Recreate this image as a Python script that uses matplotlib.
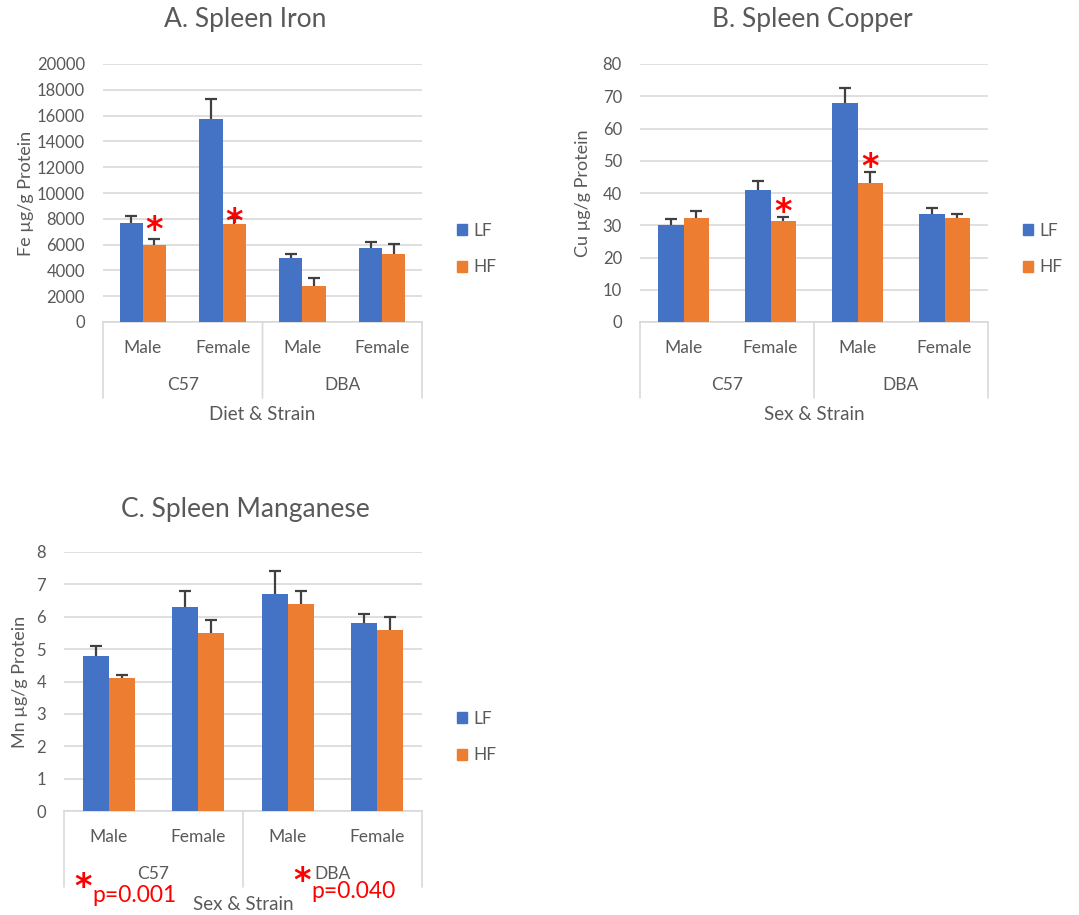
# -*- coding: utf-8 -*-
"""
Spleen metal content (Fe, Cu, Mn) by diet, sex and strain
"""
#%% Importing the necessary Python packages
import numpy as np
import matplotlib
matplotlib.use('Agg')
import matplotlib.pyplot as plt
from matplotlib.patches import Patch
from matplotlib.transforms import blended_transform_factory, ScaledTranslation

#%% Data
sexes = ['Male', 'Female', 'Male', 'Female']
strains = ['C57', 'DBA']
diets = ['LF', 'HF']

iron_lf = [7700, 15700, 5000, 5750]
iron_lf_err = [500, 1600, 300, 450]
iron_hf = [6000, 7600, 2800, 5300]
iron_hf_err = [400, 500, 600, 750]
iron_star_x = [0, 1]
iron_star_y = [7900, 8450]

copper_lf = [30, 41, 68, 33.5]
copper_lf_err = [2.0, 2.7, 4.7, 1.7]
copper_hf = [32.3, 31.3, 43, 32.3]
copper_hf_err = [2.2, 1.4, 3.6, 1.3]
copper_star_x = [1, 2]
copper_star_y = [37.2, 50.9]

mn_lf = [4.8, 6.3, 6.7, 5.8]
mn_lf_err = [0.3, 0.5, 0.7, 0.3]
mn_hf = [4.1, 5.5, 6.4, 5.6]
mn_hf_err = [0.1, 0.4, 0.4, 0.4]
mn_pvalues = ['p=0.001', 'p=0.040']

#%% Styling
W, H = 1079, 915
DPI = 100
cLF = '#4472C4'
cHF = '#ED7D31'
cText = '#595959'
cGrid = '#D9D9D9'
cErr = '#404040'
barW = 0.29
starFont = ['DejaVu Sans']

plt.rcParams['font.family'] = ['Lato', 'DejaVu Sans']
plt.rcParams['text.color'] = cText

fig = plt.figure(figsize=(W / DPI, H / DPI), dpi=DPI)


def pxAxes(left, top, right, bottom):
    # pixel box -> figure fraction axes
    return fig.add_axes([left / W, 1 - bottom / H, (right - left) / W, (bottom - top) / H])


def px(x, y):
    return x / W, 1 - y / H


def belowAxis(ax, dy):
    # x in data, y at the x axis shifted down by dy pixels
    base = blended_transform_factory(ax.transData, ax.transAxes)
    return base + ScaledTranslation(0, -dy / DPI, fig.dpi_scale_trans)


def upperErrorBars(ax, x, y, err):
    ebar = ax.errorbar(x, y, yerr=[np.zeros(len(y)), err], fmt='none', ecolor=cErr,
                       elinewidth=1.6, capsize=4.5, capthick=1.6, zorder=4)
    # keep only the top caps
    ebar[1][0].set_visible(False)
    return ebar


def addGroupedBars(ax, lf, lfErr, hf, hfErr, ymax, ystep, ylabel, xlabel, ylabelX):
    x = np.arange(len(sexes))
    ax.bar(x - barW / 2, lf, barW, color=cLF, zorder=3)
    ax.bar(x + barW / 2, hf, barW, color=cHF, zorder=3)
    upperErrorBars(ax, x - barW / 2, lf, lfErr)
    upperErrorBars(ax, x + barW / 2, hf, hfErr)

    ax.set_xlim(-0.5, len(sexes) - 0.5)
    ax.set_ylim(0, ymax)
    ax.set_yticks(np.arange(0, ymax + ystep / 2, ystep))
    ax.yaxis.grid(True, color=cGrid, lw=1.2)
    ax.set_axisbelow(True)
    for s in ['top', 'right', 'left']:
        ax.spines[s].set_visible(False)
    ax.spines['bottom'].set_color(cGrid)
    ax.spines['bottom'].set_linewidth(1.2)
    ax.tick_params(axis='y', length=0, pad=13, labelsize=12, labelcolor=cText)
    ax.set_xticks([])

    # two level category axis
    tr1 = belowAxis(ax, 26)
    tr2 = belowAxis(ax, 63)
    tr3 = belowAxis(ax, 93)
    for i, s in enumerate(sexes):
        ax.text(i, 0, s, transform=tr1, ha='center', va='center', fontsize=12.5, color=cText)
    for j, st in enumerate(strains):
        ax.text(2 * j + 0.5, 0, st, transform=tr2, ha='center', va='center', fontsize=12.5, color=cText)
    ax.text(1.5, 0, xlabel, transform=tr3, ha='center', va='center', fontsize=13.5, color=cText)
    base = blended_transform_factory(ax.transData, ax.transAxes)
    for xs in [-0.5, 1.5, 3.5]:
        ax.annotate('', xy=(xs, 0), xycoords=base,
                    xytext=(0, -76 * 0.72), textcoords='offset points',
                    arrowprops=dict(arrowstyle='-', color=cGrid, lw=1.2, shrinkA=0, shrinkB=0))

    ax.set_ylabel(ylabel, fontsize=13, color=cText)
    ax.yaxis.set_label_coords(ylabelX, 0.5)

    handles = [Patch(color=cLF, label=diets[0]), Patch(color=cHF, label=diets[1])]
    return handles


def addLegend(ax, handles, x, y):
    fx, fy = px(x, y)
    ax.legend(handles=handles, loc='center left', bbox_to_anchor=(fx, fy),
              bbox_transform=fig.transFigure, frameon=False, fontsize=12.5,
              handlelength=0.6, handleheight=0.6, handletextpad=0.35,
              labelspacing=1.2, labelcolor=cText)


def addStars(ax, xs, ys):
    # asterisk glyph sits high in its box, pull it down a little
    tr = ax.transData + ScaledTranslation(0, -10 / DPI, fig.dpi_scale_trans)
    for xi, yi in zip(xs, ys):
        ax.text(xi + barW / 2, yi, '*', color='red', fontsize=24, ha='center', va='center',
                family=starFont, fontweight='bold', transform=tr, zorder=5)


#%% A. Spleen Iron
axA = pxAxes(103, 64, 422, 322)
h = addGroupedBars(axA, iron_lf, iron_lf_err, iron_hf, iron_hf_err, 20000, 2000,
                   'Fe µg/g Protein', 'Diet & Strain', -0.215)
addStars(axA, iron_star_x, iron_star_y)
addLegend(axA, h, 441, 249)
fig.text(*px(245, 20), 'A. Spleen Iron', fontsize=19, ha='center', va='center', color=cText)

#%% B. Spleen Copper
axB = pxAxes(640, 64, 988, 322)
h = addGroupedBars(axB, copper_lf, copper_lf_err, copper_hf, copper_hf_err, 80, 10,
                   'Cu µg/g Protein', 'Sex & Strain', -0.14)
addStars(axB, copper_star_x, copper_star_y)
addLegend(axB, h, 1007, 249)
fig.text(*px(812, 20), 'B. Spleen Copper', fontsize=19, ha='center', va='center', color=cText)

#%% C. Spleen Manganese
axC = pxAxes(64, 552, 422, 811)
h = addGroupedBars(axC, mn_lf, mn_lf_err, mn_hf, mn_hf_err, 8, 1,
                   'Mn µg/g Protein', 'Sex & Strain', -0.10)
addLegend(axC, h, 441, 737)
fig.text(*px(245, 510), 'C. Spleen Manganese', fontsize=19, ha='center', va='center', color=cText)

# p values under the manganese chart
fig.text(*px(83, 888), '*', color='red', fontsize=24, ha='center', va='center',
         family=starFont, fontweight='bold')
fig.text(*px(92, 896), mn_pvalues[0], color='red', fontsize=16.5, ha='left', va='center')
fig.text(*px(302, 881), '*', color='red', fontsize=24, ha='center', va='center',
         family=starFont, fontweight='bold')
fig.text(*px(311, 891), mn_pvalues[1], color='red', fontsize=16.5, ha='left', va='center')

fig.savefig('out.png', dpi=DPI)
print('Writing: out.png')
